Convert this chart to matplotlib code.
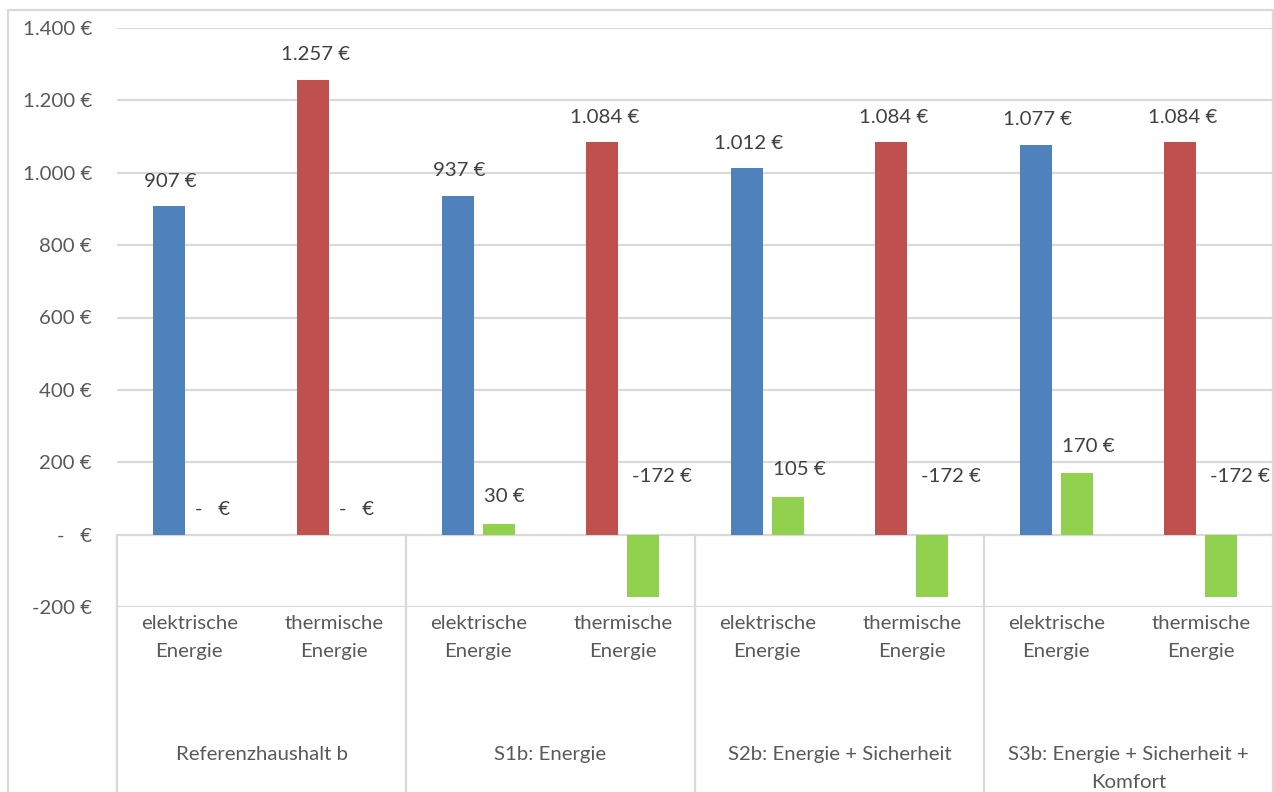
import matplotlib
matplotlib.use("Agg")
import matplotlib.pyplot as plt
from matplotlib.patches import Rectangle
from matplotlib.lines import Line2D

plt.rcParams['font.family'] = ['Lato', 'DejaVu Sans']

groups = ["Referenzhaushalt b", "S1b: Energie", "S2b: Energie + Sicherheit",
          "S3b: Energie + Sicherheit +\nKomfort"]
subcats = ["elektrische\nEnergie", "thermische\nEnergie"]
elektrisch = [907, 937, 1012, 1077]
thermisch = [1257, 1084, 1084, 1084]
diff_el = [0, 30, 105, 170]
diff_th = [0, -172, -172, -172]
yticks = [-200, 0, 200, 400, 600, 800, 1000, 1200, 1400]

BLUE = "#4F81BD"
RED = "#C0504D"
GREEN = "#92D050"
GRID = "#D9D9D9"
TXT = "#595959"
LBL = "#404040"

def eur(v):
    if v == 0:
        return "-   €"
    s = f"{abs(v):,}".replace(",", ".")
    return ("-" if v < 0 else "") + s + " €"

W, H = 1274, 792
fig = plt.figure(figsize=(W / 100, H / 100), dpi=100)
left, right, top, bottom = 117, 1273, 28, 607
ax = fig.add_axes([left / W, 1 - bottom / H, (right - left) / W, (bottom - top) / H])

main_vals, diff_vals, colors = [], [], []
for e, t, de, dt in zip(elektrisch, thermisch, diff_el, diff_th):
    main_vals += [e, t]
    diff_vals += [de, dt]
    colors += [BLUE, RED]
xs = list(range(len(main_vals)))
off, bw = 0.142, 0.222

ax.bar([x - off for x in xs], main_vals, width=bw, color=colors, zorder=3, linewidth=0)
ax.bar([x + off for x in xs], diff_vals, width=bw, color=GREEN, zorder=3, linewidth=0)

fs = 14.7
ax.set_xlim(-0.5, len(xs) - 0.5)
ax.set_ylim(-200, 1400)
ax.set_yticks(yticks)
ax.set_yticklabels([eur(v) for v in yticks])
ax.tick_params(axis='y', length=0, pad=18, labelsize=fs, labelcolor=TXT)
ax.set_xticks([])
ax.grid(axis='y', color=GRID, linewidth=1.6, zorder=0)
for s in ax.spines.values():
    s.set_visible(False)

for x, v in zip(xs, main_vals):
    ax.annotate(eur(v), (x - off, v), xytext=(2, 25), textcoords='offset pixels',
                ha='center', va='center', fontsize=fs, color=LBL)
for x, v in zip(xs, diff_vals):
    bl = x + off - bw / 2
    if v > 0:
        ax.annotate(eur(v), (bl, v), xytext=(1, 27), textcoords='offset pixels',
                    ha='left', va='center', fontsize=fs, color=LBL)
    elif v == 0:
        ax.annotate(eur(v), (bl, 0), xytext=(1, 25), textcoords='offset pixels',
                    ha='left', va='center', fontsize=fs, color=LBL)
    else:
        ax.annotate(eur(v), (bl, 0), xytext=(5, 58), textcoords='offset pixels',
                    ha='left', va='center', fontsize=fs, color=LBL)

# category separators
trans = ax.get_xaxis_transform()
zero_frac = (0 - (-200)) / 1600
for i in range(len(groups)):
    xb = -0.5 + 2 * i
    ax.add_line(Line2D([xb, xb], [zero_frac, -0.5], transform=trans, color=GRID,
                       linewidth=1.6, clip_on=False))

ph = bottom - top
def yfrac(ypix):
    return (bottom - ypix) / ph

for x in xs:
    ax.text(x, yfrac(615), subcats[x % 2], transform=trans, ha='center', va='top',
            fontsize=fs, color=TXT, linespacing=1.8)
for g, name in enumerate(groups):
    ax.text(2 * g + 0.5, yfrac(746), name, transform=trans, ha='center', va='top',
            fontsize=fs, color=TXT, linespacing=1.8)

# outer chart frame
fig.add_artist(Rectangle((8 / W, -0.1), (1273 - 8) / W, (H - 10) / H + 0.1,
                         transform=fig.transFigure, fill=False, edgecolor=GRID,
                         linewidth=1.6))

fig.savefig("out.png", dpi=100)
